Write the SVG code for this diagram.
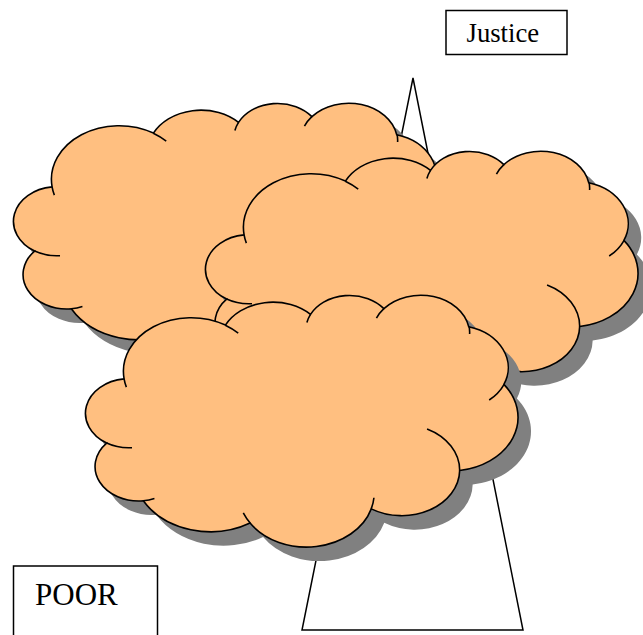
<svg xmlns="http://www.w3.org/2000/svg" xmlns:xlink="http://www.w3.org/1999/xlink" width="643" height="635" viewBox="0 0 643 635">
<style>
.line{fill:none;stroke:#000;stroke-width:1.5;stroke-linejoin:miter}
.shadow{fill:#808080;stroke:none}
.body{fill:#FFBF80;stroke:#000;stroke-width:1.6}
.inner{fill:none;stroke:#000;stroke-width:1.6}
.box{fill:#fff;stroke:#000;stroke-width:1.5}
.lbl{font-family:"Liberation Serif","Times New Roman",serif;fill:#000}
</style>
<defs>
<path id="cloudShape" d="M39.09,83.83 A43.55,34.68 0 0 0 21.65,148.05 A43.70,34.52 0 0 0 58.33,205.80 A77.38,61.50 0 0 0 165.08,228.03 A67.68,53.75 0 0 0 286.26,213.85 A57.98,45.89 0 0 0 374.67,175.53 A67.91,53.78 0 0 0 418.87,89.43 A53.45,42.43 0 0 0 383.69,31.68 A48.68,38.47 0 0 0 298.89,13.65 A43.75,34.68 0 0 0 225.52,19.43 A53.45,42.39 0 0 0 140.42,30.10 A67.69,53.61 0 0 0 39.09,83.83 Z"/>
<path id="cloudInner" d="M47.03,152.69 A43.55,34.68 0 0 1 21.65,148.05 M69.44,203.58 A43.70,34.52 0 0 1 58.33,205.80 M165.16,228.03 A67.68,53.75 0 0 1 158.29,217.95 M288.93,202.71 A67.68,53.75 0 0 1 286.26,213.85 M342.07,133.90 A57.98,45.89 0 0 1 374.67,175.53 M418.95,89.57 A53.45,42.43 0 0 1 404.19,105.01 M384.13,31.65 A48.68,38.47 0 0 1 384.61,39.03 M291.45,23.05 A48.68,38.47 0 0 1 298.89,13.65 M221.91,27.53 A43.75,34.68 0 0 1 225.52,19.43 M140.32,30.29 A67.69,53.61 0 0 1 153.23,38.22 M41.36,92.10 A67.69,53.61 0 0 1 39.09,83.83"/>
</defs>
<g id="triangle">
<polygon class="line" points="413,78 302,630 523,630"/>
</g>
<g id="cloud1" transform="translate(13,103)">
<use xlink:href="#cloudShape" class="shadow" x="13" y="14"/>
<use xlink:href="#cloudShape" class="body"/>
<use xlink:href="#cloudInner" class="inner"/>
</g>
<g id="cloud2" transform="translate(205,151)">
<use xlink:href="#cloudShape" class="shadow" x="13" y="14"/>
<use xlink:href="#cloudShape" class="body"/>
<use xlink:href="#cloudInner" class="inner"/>
</g>
<g id="cloud3" transform="translate(85,295)">
<use xlink:href="#cloudShape" class="shadow" x="13" y="14"/>
<use xlink:href="#cloudShape" class="body"/>
<use xlink:href="#cloudInner" class="inner"/>
</g>
<g id="justice">
<rect class="box" x="446" y="10.5" width="121" height="44"/>
<text class="lbl" x="466.5" y="41.5" font-size="26.7">Justice</text>
</g>
<g id="poor">
<rect class="box" x="13.5" y="566" width="144" height="80"/>
<text class="lbl" x="35" y="605" font-size="31">POOR</text>
</g>
</svg>
